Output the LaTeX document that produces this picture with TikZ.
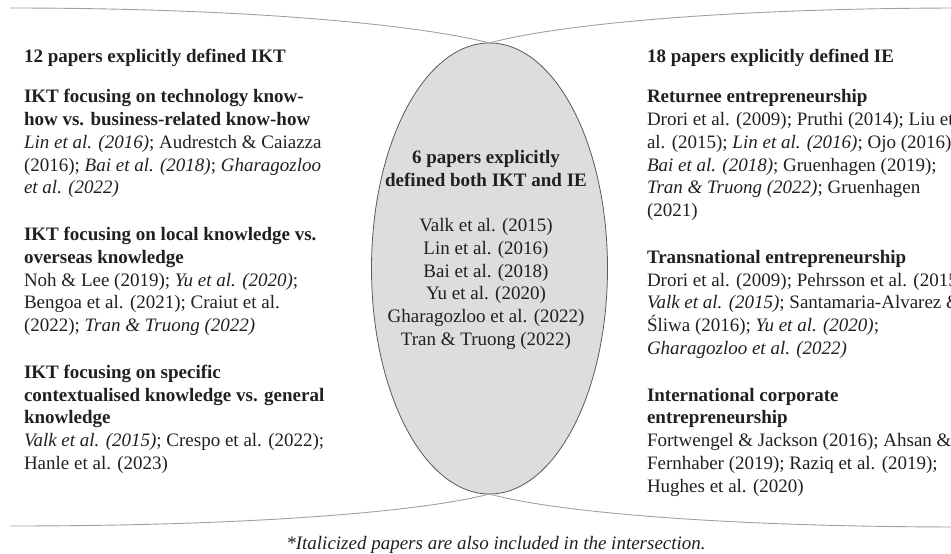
\documentclass[tikz,border=0pt]{standalone}
\usepackage{fontspec}
\setmainfont{Liberation Serif}
\usetikzlibrary{shapes.geometric}
\definecolor{lensfill}{RGB}{220,221,222}
\definecolor{lensline}{RGB}{90,90,90}
\definecolor{rimline}{RGB}{160,160,160}
\definecolor{txt}{RGB}{35,31,32}
\begin{document}
\begin{tikzpicture}[x=1pt, y=-1pt, every node/.style = {inner sep=0pt, outer sep=0pt, text=txt, font=\fontsize{19}{22.7}\selectfont}, line width=0.8pt]
	\tikzstyle{col} = [anchor=north west, align=left]
	\tikzstyle{both} = [anchor=north, align=center]
	\tikzstyle{lens} = [ellipse, draw=lensline, fill=lensfill, minimum width=236pt, minimum height=451pt]
	\tikzstyle{rim} = [draw=rimline, line width=0.9pt]
	\tikzstyle{note} = [anchor=base, font=\fontsize{19}{22.7}\selectfont\itshape]
	\useasboundingbox (0,0) rectangle (951,554);
	\node[lens] (inter) at (489.5,268.5) {};
	\coordinate (tl) at (10,8);
	\coordinate (bl) at (10,526);
	\coordinate (tr) at (964,8);
	\coordinate (br) at (964,527);
	\draw[rim] (tl) .. controls (250,8) and (420,25) .. (inter.north);
	\draw[rim] (inter.north) .. controls (554,25) and (724,8) .. (tr);
	\draw[rim] (bl) .. controls (250,526) and (420,512) .. (inter.south);
	\draw[rim] (inter.south) .. controls (554,512) and (724,527) .. (br);
	\node[col] (ikt) at (24,47.1) {\strut\textbf{12 papers explicitly defined IKT}\\[17.3pt]
		\textbf{IKT focusing on technology know-}\\
		\textbf{how vs. business-related know-how}\\
		\textit{Lin et al. (2016)}; Audrestch \& Caiazza\\
		(2016); \textit{Bai et al. (2018)}; \textit{Gharagozloo}\\
		\textit{et al. (2022)}\\[24.3pt]
		\textbf{IKT focusing on local knowledge vs.}\\
		\textbf{overseas knowledge}\\
		Noh \& Lee (2019); \textit{Yu et al. (2020)};\\
		Bengoa et al. (2021); Craiut et al.\\
		(2022); \textit{Tran \& Truong (2022)}\\[24.3pt]
		\textbf{IKT focusing on specific}\\
		\textbf{contextualised knowledge vs. general}\\
		\textbf{knowledge}\\
		\textit{Valk et al. (2015)}; Crespo et al. (2022);\\
		Hanle et al. (2023)};
	\node[both] (both) at (486,148.1) {\strut\textbf{6 papers explicitly}\\
		\textbf{defined both IKT and IE}\\[22.3pt]
		Valk et al. (2015)\\
		Lin et al. (2016)\\
		Bai et al. (2018)\\
		Yu et al. (2020)\\
		Gharagozloo et al. (2022)\\
		Tran \& Truong (2022)};
	\node[col] (ie) at (647,47.1) {\strut\textbf{18 papers explicitly defined IE}\\[17.3pt]
		\textbf{Returnee entrepreneurship}\\
		Drori et al. (2009); Pruthi (2014); Liu et\\
		al. (2015); \textit{Lin et al. (2016)}; Ojo (2016);\\
		\textit{Bai et al. (2018)}; Gruenhagen (2019);\\
		\textit{Tran \& Truong (2022)}; Gruenhagen\\
		(2021)\\[24.3pt]
		\textbf{Transnational entrepreneurship}\\
		Drori et al. (2009); Pehrsson et al. (2015);\\
		\textit{Valk et al. (2015)}; Santamaria-Alvarez \&\\
		Śliwa (2016); \textit{Yu et al. (2020)};\\
		\textit{Gharagozloo et al. (2022)}\\[24.3pt]
		\textbf{International corporate}\\
		\textbf{entrepreneurship}\\
		Fortwengel \& Jackson (2016); Ahsan \&\\
		Fernhaber (2019); Raziq et al. (2019);\\
		Hughes et al. (2020)};
	\node[note] (note) at (496,549) {*Italicized papers are also included in the intersection.};
\end{tikzpicture}
\end{document}
